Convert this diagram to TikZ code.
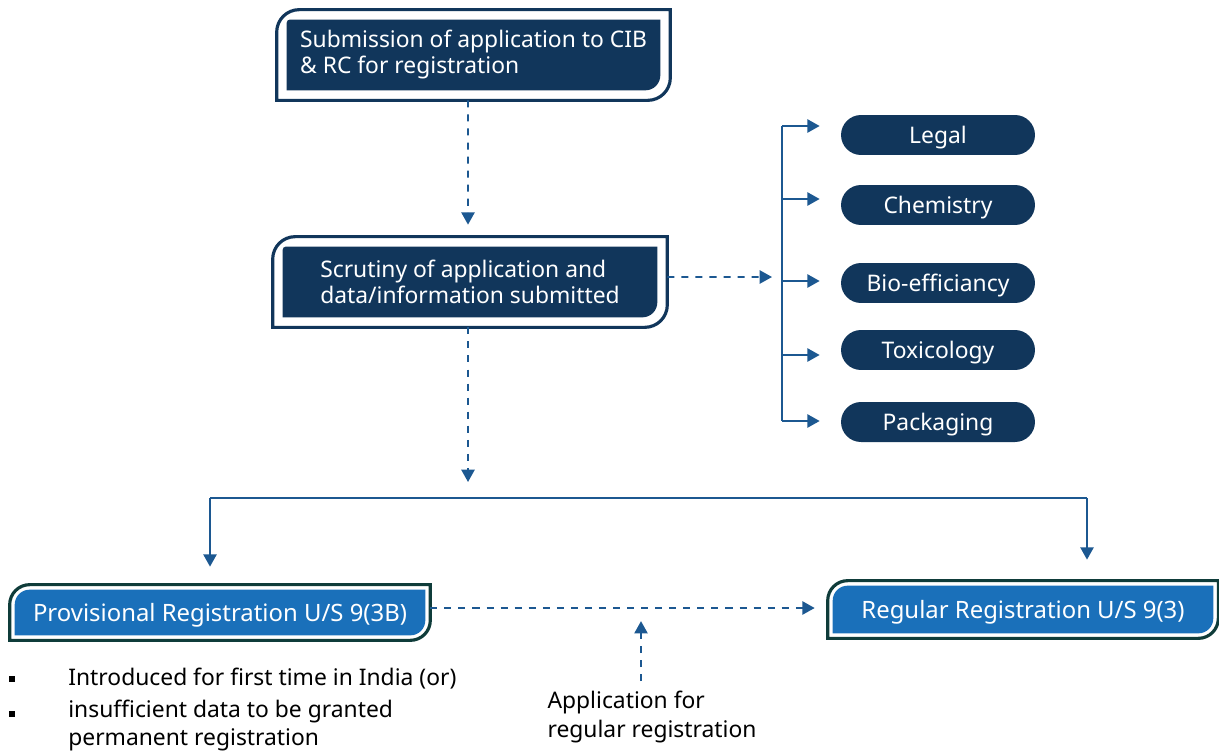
\documentclass[tikz,border=0pt]{standalone}
\usepackage{fontspec}
\setmainfont{Noto Sans}
\usetikzlibrary{arrows.meta, positioning, calc, backgrounds}
\definecolor{navy}{RGB}{17,54,91}
\definecolor{regblue}{RGB}{26,112,186}
\definecolor{darkteal}{RGB}{15,60,58}
\definecolor{arrowblue}{RGB}{28,88,145}

% frame: node, fill, line, gap, outer radius, inner tl radius, inner br radius
\newcommand{\tagframe}[7]{%
  \fill[#2] ([yshift=-#6]#1.north west) arc[start angle=180, end angle=90, radius=#6]
     -- (#1.north east) -- ([yshift=#7]#1.south east)
     arc[start angle=0, end angle=-90, radius=#7] -- (#1.south west) -- cycle;
  \draw[#3, line width=1.8pt] ([shift={(-#4,#4-#5)}]#1.north west)
     arc[start angle=180, end angle=90, radius=#5]
     -- ([shift={(#4,#4)}]#1.north east)
     -- ([shift={(#4,-#4+#5)}]#1.south east)
     arc[start angle=0, end angle=-90, radius=#5]
     -- ([shift={(-#4,-#4)}]#1.south west) -- cycle;
}

\tikzset{
  boxtext/.style={text=white, align=left, inner sep=0pt,
                  font=\fontsize{13}{14.8}\selectfont},
  regtext/.style={text=white, inner sep=0pt, text height=9.8pt, text depth=0pt,
                  font=\fontsize{13.6}{16}\selectfont},
  pill/.style={fill=navy, text=white, rounded corners=0.4cm,
               minimum width=3.88cm, minimum height=0.8cm, inner sep=0pt,
               text height=9.3pt, text depth=0pt,
               font=\fontsize{13}{15}\selectfont},
  note/.style={text=black, align=left, inner sep=0pt,
               font=\fontsize{13}{16}\selectfont},
  bullet/.style={fill=black, minimum size=3.5pt, inner sep=0pt},
  tip/.style={-{Triangle[length=7pt,width=7.5pt]}},
  flow/.style={draw=arrowblue, line width=1.1pt},
  dashflow/.style={flow, tip, dash pattern=on 4pt off 4pt},
}

\begin{document}
\begin{tikzpicture}[x=0.02cm, y=-0.02cm]
    \useasboundingbox (0,0) rectangle (1219,753);

    % main boxes
    \node[boxtext, minimum width=7.46cm, minimum height=1.4cm] (submit)
        at (473.5,55) {Submission of application to CIB\\\& RC for registration};
    \node[boxtext, minimum width=7.48cm, minimum height=1.4cm] (scrutiny)
        at (470,282) {Scrutiny of application and\\data/information submitted};
    \node[regtext, minimum width=8.2cm, minimum height=0.9cm] (provisional)
        at (220,612.5) {Provisional Registration U/S 9(3B)};
    \node[regtext, minimum width=7.6cm, minimum height=0.94cm] (regular)
        at (1023,609.5) {Regular Registration U/S 9(3)};

    % scrutiny areas
    \node[pill] (legal) at (938,135) {Legal};
    \node[pill] (chem)  at (938,205) {Chemistry};
    \node[pill] (bio)   at (938,283) {Bio-efficiancy};
    \node[pill] (tox)   at (938,350) {Toxicology};
    \node[pill] (pack)  at (938,422) {Packaging};

    \begin{scope}[on background layer]
        \tagframe{submit}{navy}{navy}{0.2cm}{0.45cm}{0.06cm}{0.3cm}
        \tagframe{scrutiny}{navy}{navy}{0.2cm}{0.45cm}{0.06cm}{0.3cm}
        \tagframe{provisional}{regblue}{darkteal}{0.1cm}{0.4cm}{0.3cm}{0.3cm}
        \tagframe{regular}{regblue}{darkteal}{0.1cm}{0.4cm}{0.3cm}{0.3cm}
    \end{scope}

    % notes
    \node[note, anchor=west] (first) at (68,679) {Introduced for first time in India (or)};
    \node[note, anchor=north west] (second) at (68,700)
        {insufficient data to be granted\\permanent registration};
    \node[bullet, left=1.05cm of first] (b1) {};
    \node[bullet] (b2) at ($(b1)+(0,35)$) {};
    \node[note] (appnote) at (652,717) {Application for\\regular registration};

    % connectors
    \coordinate (fork) at (782,277);
    \coordinate (lbranch) at (210,498);
    \coordinate (rbranch) at (1087,498);

    \draw[dashflow] ($(submit.south)+(-0.11cm,-0.2cm)$) -- ($(scrutiny.north)+(-0.04cm,0.44cm)$);
    \draw[dashflow] ($(scrutiny.east)+(0.2cm,0.1cm)$) -- ($(fork)+(-0.2cm,0)$);
    \draw[flow] ($(fork |- legal.west)+(0,0.18cm)$) -- ($(fork |- pack.west)+(0,0.02cm)$);
    \foreach \area/\dy in {legal/0.18cm, chem/0.12cm, bio/0.04cm, tox/-0.1cm, pack/0.02cm}
        \draw[flow, tip] ($(fork |- \area.west)+(0,\dy)$) -- ($(\area.west)+(-0.42cm,\dy)$);

    \draw[dashflow] ($(scrutiny.south)+(-0.04cm,-0.2cm)$) -- ($(lbranch -| scrutiny.south)+(-0.04cm,0.32cm)$);
    \draw[flow] (lbranch) -- (rbranch);
    \draw[flow, tip] (lbranch) -- ($(lbranch |- provisional.north)+(0,0.46cm)$);
    \draw[flow, tip] (rbranch) -- ($(rbranch |- regular.north)+(0,0.52cm)$);

    \draw[dashflow] ($(provisional.east)+(0.1cm,0.09cm)$) -- ($(regular.west |- provisional.east)+(-0.36cm,0.09cm)$);
    \draw[dashflow] ($(appnote.north)+(-0.22cm,0.2cm)$) -- ++(0,-60);
\end{tikzpicture}
\end{document}
